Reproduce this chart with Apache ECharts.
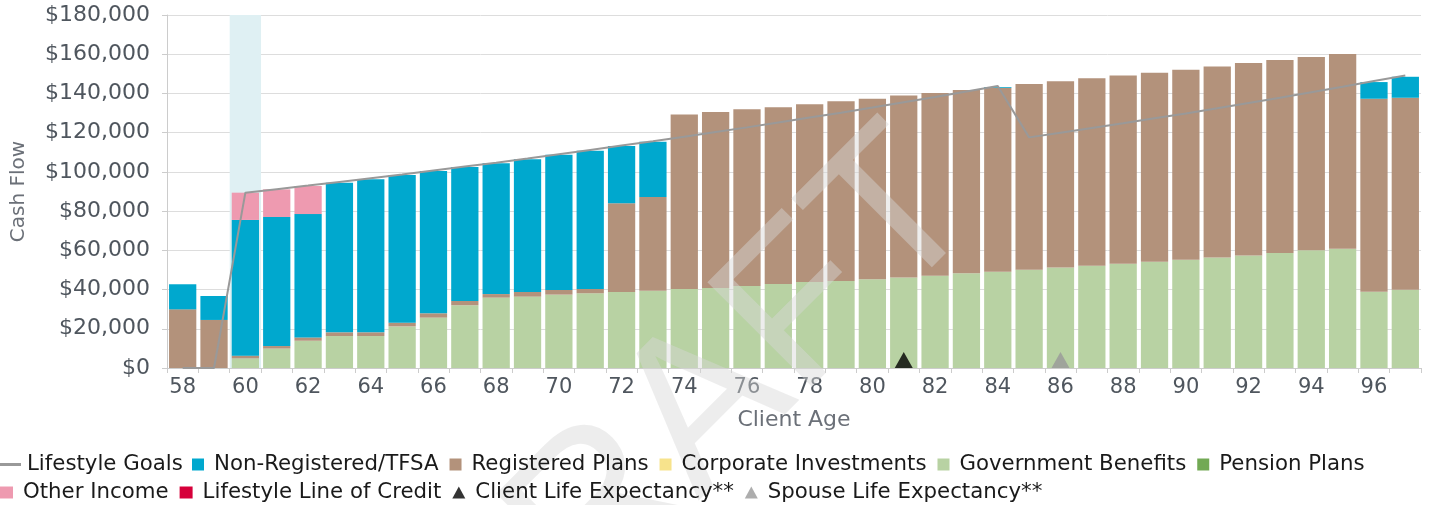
<!DOCTYPE html>
<html>
<head>
<meta charset="utf-8">
<title>Cash Flow</title>
<script src="https://cdn.jsdelivr.net/npm/echarts@6/dist/echarts.min.js"></script>
<style>
  html, body { margin: 0; padding: 0; background: #fff; }
  #chart { width: 1429px; height: 505px; }
</style>
</head>
<body>
<div id="chart"></div>
<script>
// ages 58..97
var ages = ['58','59','60','61','62','63','64','65','66','67','68','69','70','71','72','73','74','75','76','77',
            '78','79','80','81','82','83','84','85','86','87','88','89','90','91','92','93','94','95','96','97'];

var yTicks = [0, 20000, 40000, 60000, 80000, 100000, 120000, 140000, 160000, 180000];

var governmentBenefits = [0, 0, 4900, 9900, 13900, 16300, 16300, 21200, 25700, 32000,
  35900, 36400, 37400, 38100, 38800, 39400, 40300, 40800, 41800, 42800,
  43900, 44400, 45200, 46100, 47100, 48300, 49100, 50100, 51200, 52200,
  53200, 54200, 55200, 56400, 57400, 58600, 60000, 60800, 38900, 39900];

var registeredPlans = [29900, 24500, 1400, 1300, 1700, 1900, 1900, 1900, 2200, 2200,
  1800, 2400, 2400, 2200, 45200, 47800, 88900, 89700, 90100, 90100,
  90600, 91600, 92100, 92800, 93100, 93500, 93800, 94700, 95000, 95500,
  96000, 96400, 96900, 97300, 98100, 98500, 98600, 99300, 98400, 97900];

var nonRegistered = [12800, 12200, 69200, 65800, 62900, 76300, 78000, 75300, 72600, 68300,
  66700, 67600, 69000, 70500, 29200, 28200, 0, 0, 0, 0,
  0, 0, 0, 0, 0, 0, 400, 0, 0, 0,
  0, 0, 0, 0, 0, 0, 0, 0, 8500, 10700];

var otherIncome = [0, 0, 13900, 14100, 14300, 0, 0, 0, 0, 0,
  0, 0, 0, 0, 0, 0, 0, 0, 0, 0,
  0, 0, 0, 0, 0, 0, 0, 0, 0, 0,
  0, 0, 0, 0, 0, 0, 0, 0, 0, 0];

var corporateInvestments = [];
var pensionPlans = [];
var lineOfCredit = [];

var lifestyleGoals = [0, 0, 89400, 91200, 93000, 94900, 96800, 98700, 100700, 102700,
  104700, 106800, 109000, 111200, 113400, 115600, 117900, 120300, 122700, 125200,
  127700, 130200, 132800, 135500, 138200, 141000, 143800, 117600, 120000, 122400,
  124800, 127300, 129800, 132400, 135100, 137800, 140600, 143400, 146300, 149200];

var retirementAge = '60';
var clientLifeAge = '81';
var spouseLifeAge = '86';

(function() {
  var font = 'DejaVu Sans';

  function marker(age) {
    return ages.map(function(a) { return a === age ? 0 : '-'; });
  }
  var band = ages.map(function(a) { return a === retirementAge ? yTicks[yTicks.length - 1] : '-'; });

  function stackBar(name, data, color) {
    return {
      name: name, type: 'bar', stack: 'cf', data: data,
      barCategoryGap: '13%', itemStyle: { color: color }, z: 2
    };
  }

  var legendText = { color: '#1a1a1a', fontSize: 21.3, fontFamily: font, padding: [0, 0, 0, 5] };

  var chart = echarts.init(document.getElementById('chart'), null, { renderer: 'canvas' });
  chart.setOption({
    animation: false,
    textStyle: { fontFamily: font },
    grid: { left: 167, right: 8, top: 15, bottom: 137 },
    legend: [
      {
        data: [{ name: 'Lifestyle Goals', icon: 'rect', itemStyle: { color: '#999999' } }],
        left: 0, top: 454, padding: 0, itemWidth: 21, itemHeight: 3,
        textStyle: { color: '#1a1a1a', fontSize: 21.3, fontFamily: font, padding: [0, 0, 0, 1] },
        selectedMode: false
      },
      {
        data: ['Non-Registered/TFSA', 'Registered Plans', 'Corporate Investments', 'Government Benefits', 'Pension Plans'],
        left: 192, top: 454, padding: 0, itemWidth: 12, itemHeight: 12, itemGap: 11,
        icon: 'rect', textStyle: legendText, selectedMode: false
      },
      {
        data: [
          { name: 'Other Income', icon: 'rect' },
          { name: 'Lifestyle Line of Credit', icon: 'rect' },
          { name: 'Client Life Expectancy**', icon: 'triangle' },
          { name: 'Spouse Life Expectancy**', icon: 'triangle' }
        ],
        left: 0, top: 482, padding: 0, itemWidth: 13, itemHeight: 12, itemGap: 11,
        textStyle: legendText, selectedMode: false
      }
    ],
    xAxis: [
      {
        type: 'category',
        data: ages,
        name: 'Client Age',
        nameLocation: 'middle',
        nameGap: 41,
        nameTextStyle: { color: '#6b7078', fontSize: 22, fontFamily: font },
        axisLine: { lineStyle: { color: '#cccccc' } },
        axisTick: { show: true, interval: 0, length: 5, lineStyle: { color: '#cccccc' } },
        axisLabel: { interval: 1, color: '#4f565e', fontSize: 21, margin: 9, fontFamily: font }
      },
      {
        type: 'category',
        data: ages,
        show: false
      }
    ],
    yAxis: {
      type: 'value',
      min: 0,
      max: 180000,
      interval: 20000,
      name: 'Cash Flow',
      nameLocation: 'middle',
      nameRotate: 90,
      nameGap: 138,
      nameTextStyle: { color: '#6b7078', fontSize: 20, fontFamily: font },
      axisLine: { show: true, lineStyle: { color: '#cccccc' } },
      axisTick: { show: true, length: 5, lineStyle: { color: '#cccccc' } },
      splitLine: { lineStyle: { color: '#dddddd' } },
      axisLabel: {
        color: '#4f565e', fontSize: 22, margin: 17, fontFamily: font,
        formatter: function(v) { return '$' + v.toLocaleString('en-US'); }
      }
    },
    // faint DRAFT watermark across the plot
    graphic: [{
      type: 'text',
      x: 690, y: 425,
      rotation: Math.PI / 4,
      silent: true,
      z: 3,
      style: {
        text: 'DRAFT',
        font: '215px "Liberation Sans"',
        fill: 'rgba(215,215,215,0.45)',
        align: 'center',
        verticalAlign: 'middle'
      }
    }],
    series: [
      {
        name: 'band', type: 'bar', xAxisIndex: 1, data: band,
        barWidth: '100%', silent: true, itemStyle: { color: '#dff0f3' }, z: 1
      },
      stackBar('Government Benefits', governmentBenefits, '#b8d2a3'),
      stackBar('Pension Plans', pensionPlans, '#72a954'),
      stackBar('Corporate Investments', corporateInvestments, '#f7e38c'),
      stackBar('Registered Plans', registeredPlans, '#b3927b'),
      stackBar('Non-Registered/TFSA', nonRegistered, '#00a8ce'),
      stackBar('Other Income', otherIncome, '#ee9ab0'),
      stackBar('Lifestyle Line of Credit', lineOfCredit, '#d6003a'),
      {
        name: 'Lifestyle Goals', type: 'line', data: lifestyleGoals,
        symbol: 'none', z: 5,
        itemStyle: { color: '#999999' },
        lineStyle: { color: '#999999', width: 2 }
      },
      {
        name: 'Client Life Expectancy**', type: 'scatter', data: marker(clientLifeAge),
        symbol: 'triangle', symbolSize: [18, 16], symbolOffset: [0, -8], z: 6,
        itemStyle: { color: '#000000' }
      },
      {
        name: 'Spouse Life Expectancy**', type: 'scatter', data: marker(spouseLifeAge),
        symbol: 'triangle', symbolSize: [18, 16], symbolOffset: [0, -8], z: 6,
        itemStyle: { color: '#999999' }
      }
    ]
  });
  window.addEventListener('resize', function() { chart.resize(); });
})();
</script>
</body>
</html>
